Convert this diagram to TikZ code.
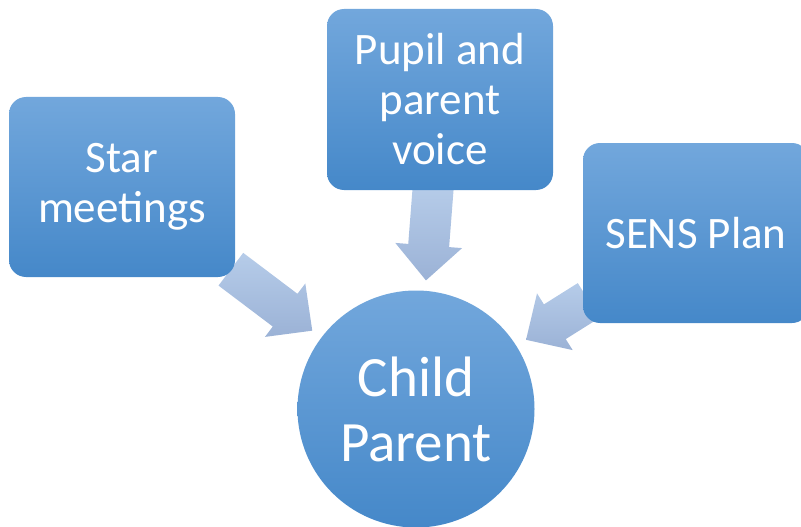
\documentclass[tikz,border=0pt]{standalone}
\usepackage{fontspec}
\setmainfont{Carlito}
\usetikzlibrary{calc,backgrounds}
\definecolor{boxtop}{HTML}{72A7DC}
\definecolor{boxbot}{HTML}{4588C9}
\definecolor{arrtop}{HTML}{B6CCE9}
\definecolor{arrbot}{HTML}{9BB2D6}
\tikzset{
  blockbox/.style={rectangle, rounded corners=17pt, top color=boxtop, bottom color=boxbot,
    text=white, align=center, inner sep=0pt, font=\fontsize{45}{50}\selectfont},
  hub/.style={circle, top color=boxtop, bottom color=boxbot, text=white, align=center,
    inner sep=0pt, minimum size=237pt, font=\fontsize{57}{65}\selectfont},
  blockarrow/.style={top color=arrtop, bottom color=arrbot, draw=none}
}
% #1 box, #2 hub, #3 tip distance, #4 head base distance, #5 start distance (from hub centre)
\newcommand\myblockarrow[5]{%
  \path[blockarrow]
    coordinate (tip) at ($(#2.center)!#3pt!(#1.center)$)
    coordinate (base) at ($(#2.center)!#4pt!(#1.center)$)
    coordinate (start) at ($(#2.center)!#5pt!(#1.center)$)
    ($(start)!20.5pt!90:(tip)$) -- ($(base)!20.5pt!90:(tip)$) -- ($(base)!33.5pt!90:(tip)$)
    -- (tip) -- ($(base)!33.5pt!-90:(tip)$) -- ($(base)!20.5pt!-90:(tip)$)
    -- ($(start)!20.5pt!-90:(tip)$) -- cycle;
}
\begin{document}
\begin{tikzpicture}[x=1pt,y=-1pt]
\useasboundingbox (0,0) rectangle (801,527);
\begin{scope}
\clip (0,0) rectangle (801,527);
\node[blockbox, minimum width=226pt, minimum height=180pt] (star) at (122,187) {Star\\meetings};
\node[blockbox, minimum width=226pt, minimum height=181pt] (pupil) at (440,99.5) {Pupil and\\parent\\voice};
\node[blockbox, minimum width=226pt, minimum height=180pt] (sens) at (696,233) {SENS Plan};
\node[hub] (child) at (416,409) {Child\\Parent};
\end{scope}
\begin{scope}[on background layer]
  \myblockarrow{star}{child}{130}{164}{232}
  \myblockarrow{pupil}{child}{129}{164}{222}
  \myblockarrow{sens}{child}{130}{164}{204}
\end{scope}
\end{tikzpicture}
\end{document}
